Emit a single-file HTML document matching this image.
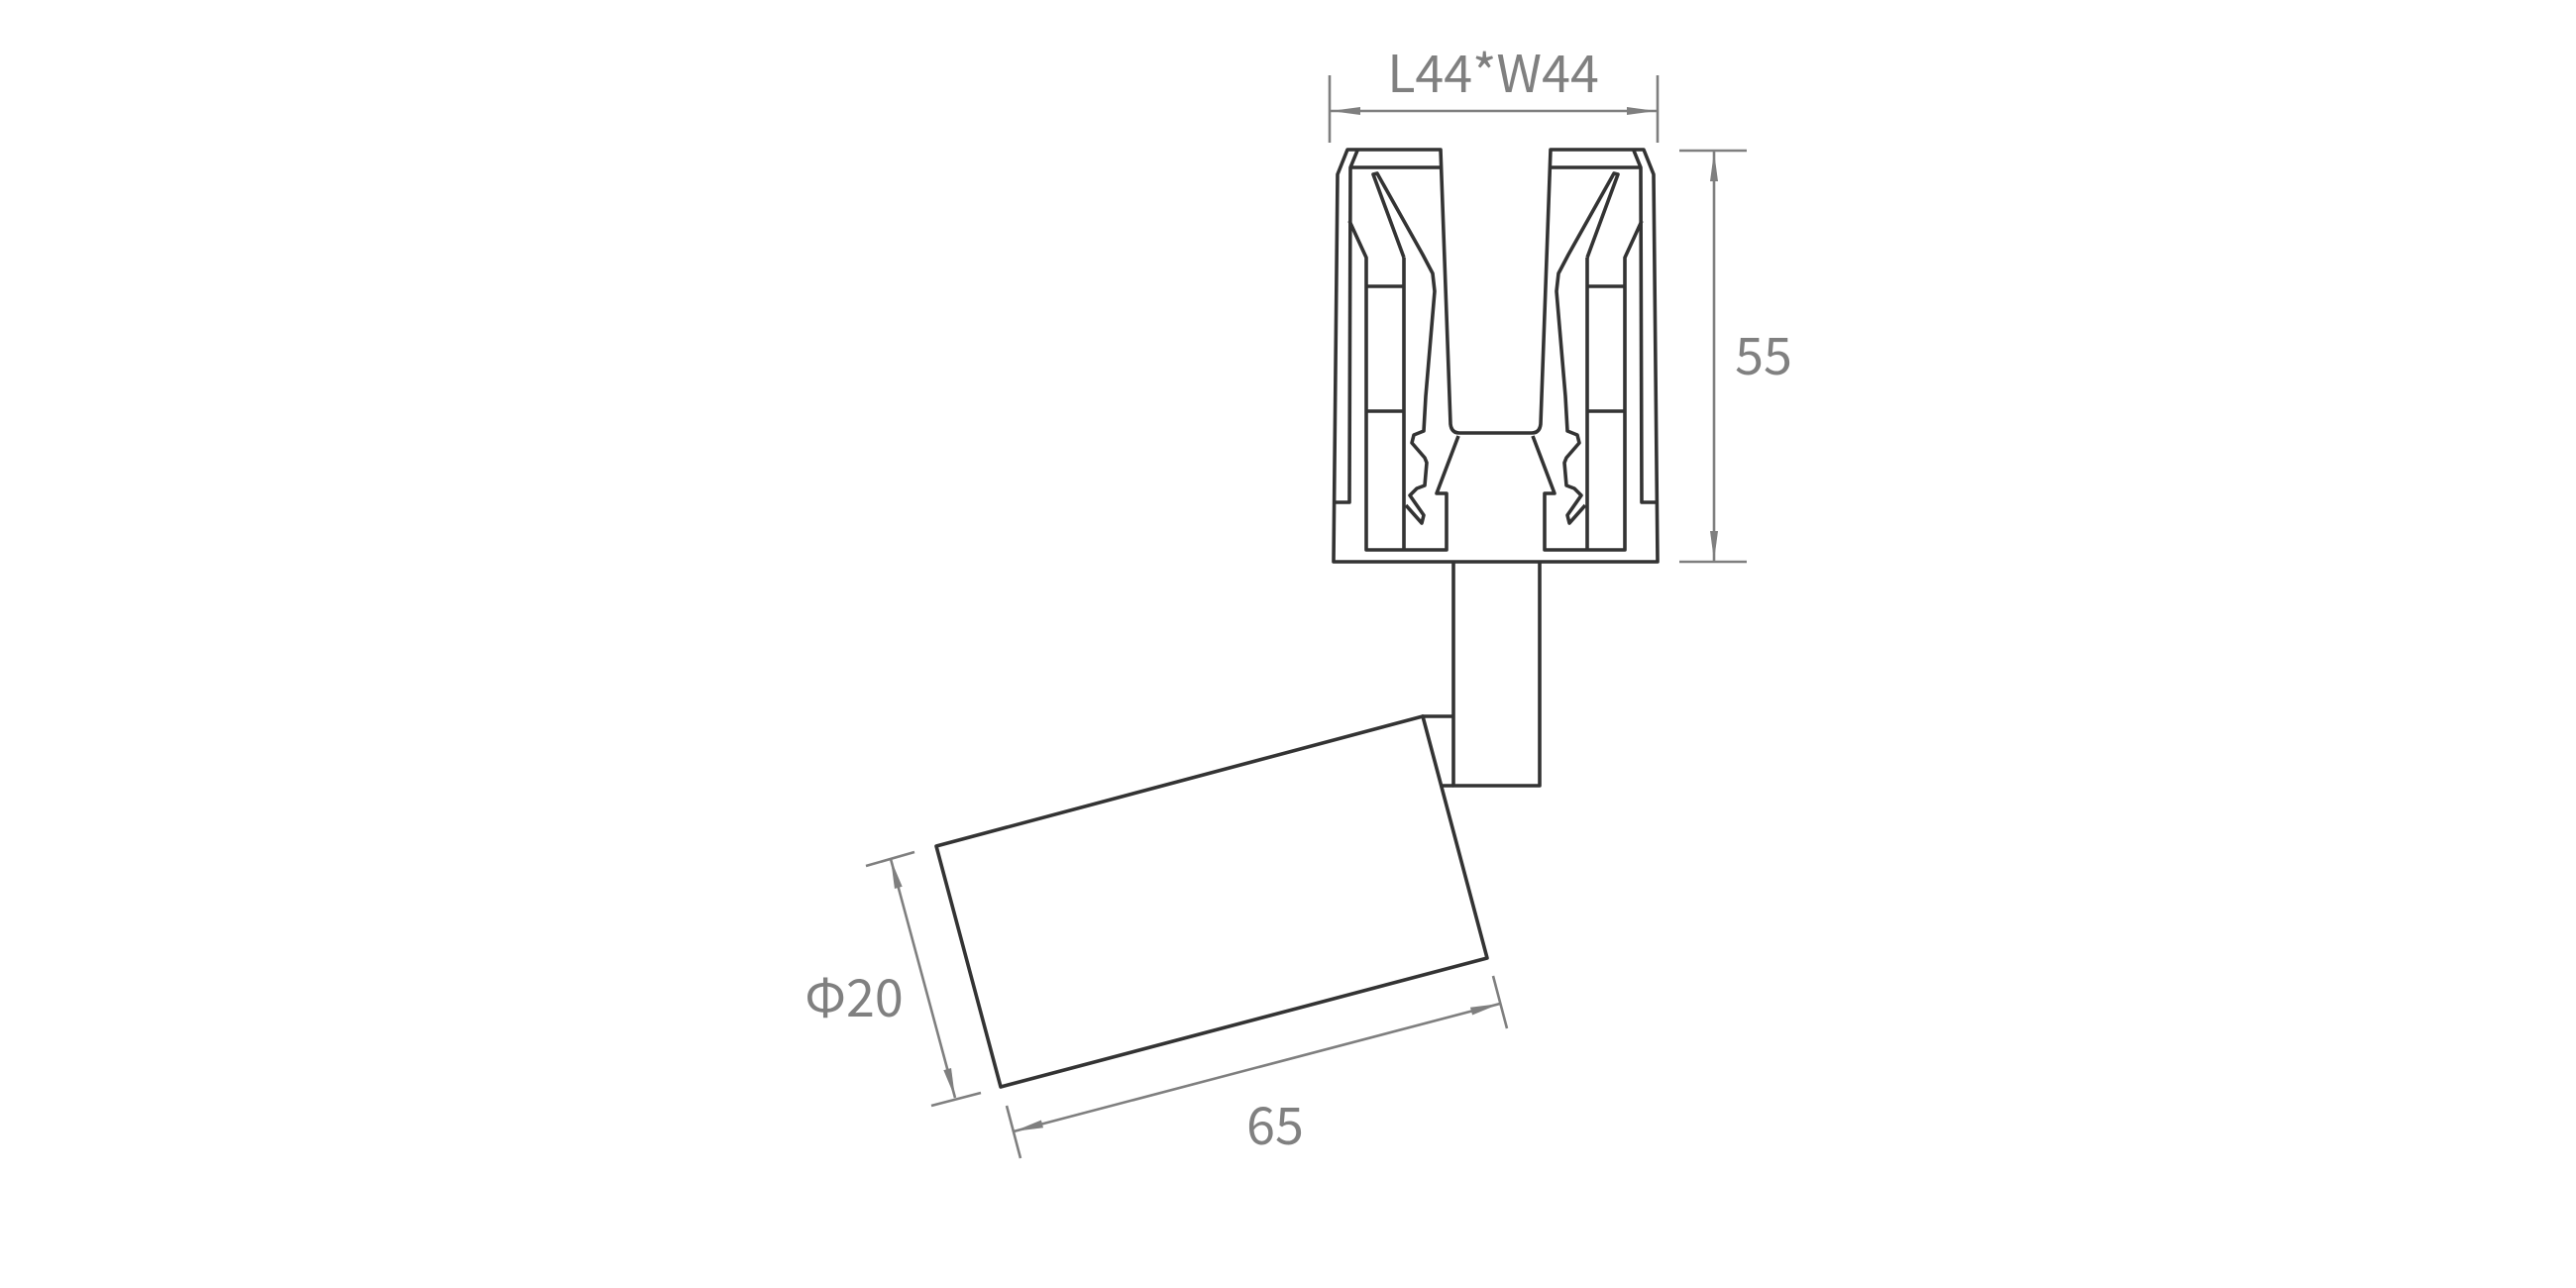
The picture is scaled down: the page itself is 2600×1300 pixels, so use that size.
<!DOCTYPE html>
<html><head><meta charset="utf-8"><style>html,body{margin:0;padding:0;background:#fff}svg{display:block}</style></head>
<body>
<svg width="2600" height="1300" viewBox="0 0 2600 1300" xmlns="http://www.w3.org/2000/svg">
<defs>
<marker id="a" viewBox="0 0 30 10" refX="30" refY="5" markerWidth="30" markerHeight="10" markerUnits="userSpaceOnUse" orient="auto-start-reverse">
<path d="M30,5 L0,1 L0,9 Z" fill="#7f7f7f"/></marker>
</defs>
<g fill="none" stroke="#333" stroke-width="3.6" stroke-linejoin="round">
<path d="M1360,151 L1454,151 L1464,428 Q1465,437 1473,437 L1546,437 Q1554,437 1555,428 L1565,151 L1659,151 L1669,176 L1673,567 L1346,567 L1350,176 Z"/>
<g id="L">
<path d="M1363,169 L1453,169"/>
<path d="M1370,152 L1363,169 L1362,507 L1346,507"/>
<path d="M1362,223 L1379,260 L1379,555 L1460,555 L1460,498 L1450,498 L1472,440"/>
<path d="M1417,260 L1417,555 M1379,289 L1417,289 M1379,415 L1417,415"/>
<path d="M1417,260 L1386,176 L1390,175 L1436,257 L1446,276 L1448,294 L1439,400 L1437,435 L1427,439 L1425,447 L1438,462 L1440,467 L1438,490 L1430,493 L1423,500 L1437,520 L1435,528 L1419,510"/>
</g>
<use href="#L" transform="translate(3019,0) scale(-1,1)"/>
<path d="M1467,567 L1467,793 L1554,793 L1554,567"/>
<path d="M1435,723 L1467,723 M1456,793 L1467,793"/>
<path d="M945,854 L1436,723 L1501,967 L1010,1097 Z"/>
</g>
<g stroke="#7f7f7f" stroke-width="2.6" fill="none">
<path d="M1342,76 L1342,144 M1673,76 L1673,144"/>
<path d="M1343,112 L1672,112" marker-start="url(#a)" marker-end="url(#a)"/>
<path d="M1695,152 L1763,152 M1695,567 L1763,567"/>
<path d="M1730,153 L1730,566" marker-start="url(#a)" marker-end="url(#a)"/>
<path d="M874,874 L923,860 M940,1116 L990,1103"/>
<path d="M899,867 L964,1108" marker-start="url(#a)" marker-end="url(#a)"/>
<path d="M1016,1116 L1030,1169 M1507,985 L1521,1038"/>
<path d="M1023,1142 L1514,1013" marker-start="url(#a)" marker-end="url(#a)"/>
</g>
<g fill="#808080" font-family="'Noto Sans CJK SC','Liberation Sans',sans-serif" font-size="52" font-weight="400" text-anchor="middle">
<text x="1507" y="93">L44*W44</text>
<text x="1780" y="378">55</text>
<text x="862" y="1026">Φ20</text>
<text x="1287" y="1155">65</text>
</g>
</svg>
</body></html>
